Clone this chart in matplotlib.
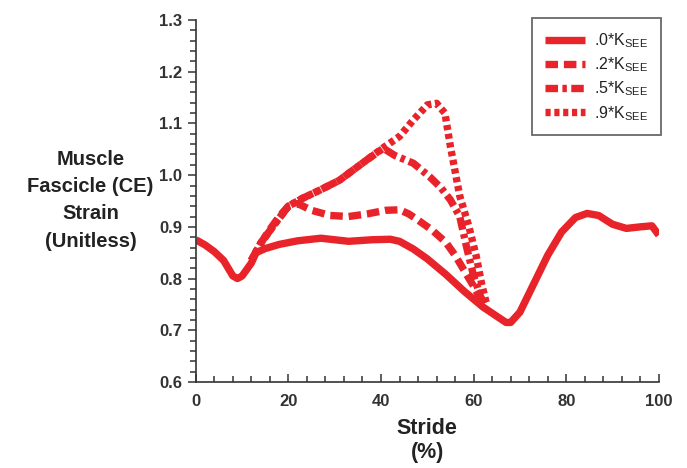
"""Muscle fascicle (CE) strain over the stride for several K_SEE values"""

import matplotlib
matplotlib.use('Agg')
import matplotlib.pyplot as plt
from matplotlib.ticker import MultipleLocator

# --- data ---
stride_0 = [0, 2, 4, 6, 8, 9, 10, 12, 13, 15, 18, 22, 27, 33, 38, 42, 44, 47, 50, 54,
            58, 62, 65, 67, 68, 70, 73, 76, 79, 82, 84.5, 87, 90, 93, 96, 98.5, 100]
strain_0 = [0.875, 0.865, 0.852, 0.835, 0.805, 0.800, 0.805, 0.830, 0.850, 0.858, 0.866,
            0.873, 0.878, 0.872, 0.875, 0.876, 0.872, 0.857, 0.838, 0.808, 0.775, 0.745,
            0.727, 0.715, 0.715, 0.735, 0.790, 0.845, 0.890, 0.918, 0.926, 0.922, 0.905,
            0.897, 0.900, 0.902, 0.884]

stride_2 = [12, 14, 16, 18, 20, 22, 25, 29, 33, 37, 41, 44, 46, 48, 51, 54, 56, 58, 60,
            61.5, 62.5]
strain_2 = [0.835, 0.868, 0.895, 0.920, 0.940, 0.945, 0.932, 0.922, 0.920, 0.925, 0.932,
            0.933, 0.925, 0.913, 0.894, 0.870, 0.845, 0.815, 0.785, 0.760, 0.745]

stride_5 = [12, 14, 17, 20, 23, 27, 31, 34, 37, 40.5, 43, 47, 50.5, 53, 55, 57, 58.5, 60,
            61.5, 62.5]
strain_5 = [0.835, 0.868, 0.905, 0.940, 0.955, 0.972, 0.990, 1.010, 1.030, 1.052, 1.038,
            1.023, 0.997, 0.975, 0.952, 0.920, 0.860, 0.805, 0.765, 0.748]

stride_9 = [12, 14, 17, 20, 23, 27, 31, 34, 37, 40, 44, 47, 50, 52, 53.8, 55, 57, 59,
            60.6, 61.7, 62.8]
strain_9 = [0.835, 0.868, 0.905, 0.940, 0.955, 0.972, 0.990, 1.010, 1.030, 1.050, 1.075,
            1.107, 1.136, 1.139, 1.120, 1.055, 0.960, 0.900, 0.842, 0.791, 0.750]

labels = ['.0*K$_\\mathregular{SEE}$', '.2*K$_\\mathregular{SEE}$',
          '.5*K$_\\mathregular{SEE}$', '.9*K$_\\mathregular{SEE}$']

RED = '#e8232a'
LW = 5.3

plt.rcParams['font.family'] = ['Liberation Sans', 'DejaVu Sans']

fig = plt.figure(figsize=(6.87, 4.68), dpi=100)
ax = fig.add_axes([0.285, 0.184, 0.674, 0.773])

common = dict(color=RED, lw=LW, solid_joinstyle='round', dash_joinstyle='round')
ax.plot(stride_0, strain_0, solid_capstyle='butt', label=labels[0], **common)
ax.plot(stride_2, strain_2, dashes=(1.7, 0.8), label=labels[1], **common)
ax.plot(stride_5, strain_5, dashes=(1.7, 0.6, 0.6, 0.6), label=labels[2], **common)
ax.plot(stride_9, strain_9, dashes=(0.7, 0.5), label=labels[3], **common)

ax.set_xlim(0, 100)
ax.set_ylim(0.6, 1.3)
ax.xaxis.set_major_locator(MultipleLocator(20))
ax.xaxis.set_minor_locator(MultipleLocator(4))
ax.yaxis.set_major_locator(MultipleLocator(0.1))
ax.yaxis.set_minor_locator(MultipleLocator(0.02))
ax.yaxis.set_major_formatter(lambda v, pos: f'{v:.1f}')

# оси: только левая и нижняя
for side in ('top', 'right'):
    ax.spines[side].set_visible(False)
for side in ('left', 'bottom'):
    ax.spines[side].set_color('#333333')
    ax.spines[side].set_linewidth(1.2)

ax.tick_params(axis='x', which='both', direction='in', color='#333333', width=1.1, pad=9)
ax.tick_params(axis='y', which='both', direction='out', color='#333333', width=1.1, pad=4)
ax.tick_params(which='major', length=6)
ax.tick_params(which='minor', length=4)
ax.tick_params(labelsize=12, labelcolor='#333333')
for lab in ax.get_xticklabels() + ax.get_yticklabels():
    lab.set_fontweight('bold')

ax.set_xlabel('Stride\n(%)', fontsize=15.5, fontweight='bold', color='#222222',
              linespacing=1.2, labelpad=6)
fig.text(0.132, 0.572, 'Muscle\nFascicle (CE)\nStrain\n(Unitless)', ha='center',
         va='center', fontsize=14.5, fontweight='bold', color='#222222', linespacing=1.55)

leg = ax.legend(loc='upper right', bbox_to_anchor=(1.005, 1.005), borderaxespad=0,
                fontsize=11.5, handlelength=2.5, fancybox=False, frameon=True,
                borderpad=0.8, labelspacing=0.35, handletextpad=0.6)
leg.get_frame().set_edgecolor('#444444')
leg.get_frame().set_linewidth(1.3)
for t in leg.get_texts():
    t.set_color('#222222')

fig.savefig('out.png', dpi=100)
